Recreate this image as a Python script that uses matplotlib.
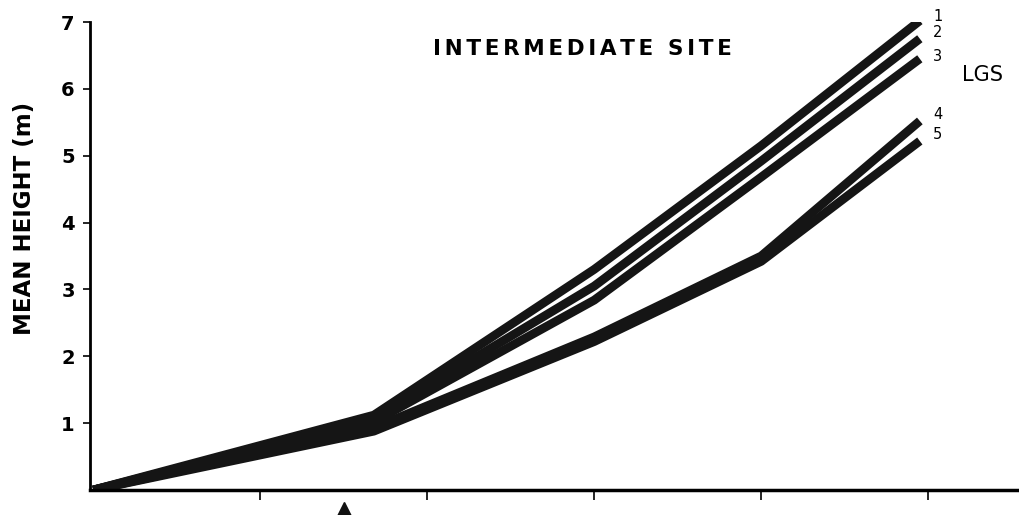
import matplotlib
matplotlib.use("Agg")
import matplotlib.pyplot as plt

# ---- data ----
ages = [0, 8.4, 15, 20, 24.75]
lgs1 = [0, 1.12, 3.30, 5.15, 7.02]
lgs2 = [0, 1.07, 3.05, 4.92, 6.75]
lgs3 = [0, 1.02, 2.84, 4.68, 6.45]
lgs4 = [0, 0.93, 2.29, 3.50, 5.52]
lgs5 = [0, 0.88, 2.22, 3.42, 5.22]
series = [lgs1, lgs2, lgs3, lgs4, lgs5]
series_labels = ["1", "2", "3", "4", "5"]
label_y = [7.08, 6.84, 6.48, 5.62, 5.32]
yticks = [1, 2, 3, 4, 5, 6, 7]
ytick_labels = ["1", "2", "3", "4", "5", "6", "7"]
xticks = [5, 10, 15, 20, 25]
marker_age = 7.5
title = "INTERMEDIATE SITE"

plt.rcParams['font.family'] = ['DejaVu Sans']

fig = plt.figure(figsize=(10.2, 5.15), dpi=100)
ax = fig.add_axes([90/1020, 25/515, (1020-90)/1020, (490-22)/515])

for s in series:
    ax.plot(ages, s, color='#151515', lw=6.3, solid_capstyle='butt',
            solid_joinstyle='round')

for lab, yy in zip(series_labels, label_y):
    ax.text(25.15, yy, lab, fontsize=10.5, va='center', ha='left')
ax.text(26.0, 6.2, "LGS", fontsize=15, va='center', ha='left')
spaced_title = "\u2006".join(title)
ax.text(14.65, 6.6, spaced_title,
        fontsize=15.5, fontweight='bold', ha='center', va='center')

ax.plot([marker_age], [-0.33], marker='^', color='#111111', markersize=15,
        clip_on=False, linestyle='none')

ax.set_xlim(-0.1, 27.75)
ax.set_ylim(0, 7)
ax.set_yticks(yticks)
ax.set_yticklabels(ytick_labels, fontsize=14, fontweight='bold')
ax.set_xticks(xticks)
ax.set_xticklabels([])
ax.tick_params(axis='y', direction='out', length=5, width=1.2, pad=6)
ax.tick_params(axis='x', direction='out', length=7, width=1.2)
ax.spines['top'].set_visible(False)
ax.spines['right'].set_visible(False)
ax.spines['left'].set_linewidth(2.0)
ax.spines['bottom'].set_linewidth(2.5)
ax.set_ylabel("MEAN HEIGHT (m)", fontsize=16.5, fontweight='bold')
ax.yaxis.set_label_coords(-0.058, 0.58)

fig.savefig("out.png", dpi=100)
